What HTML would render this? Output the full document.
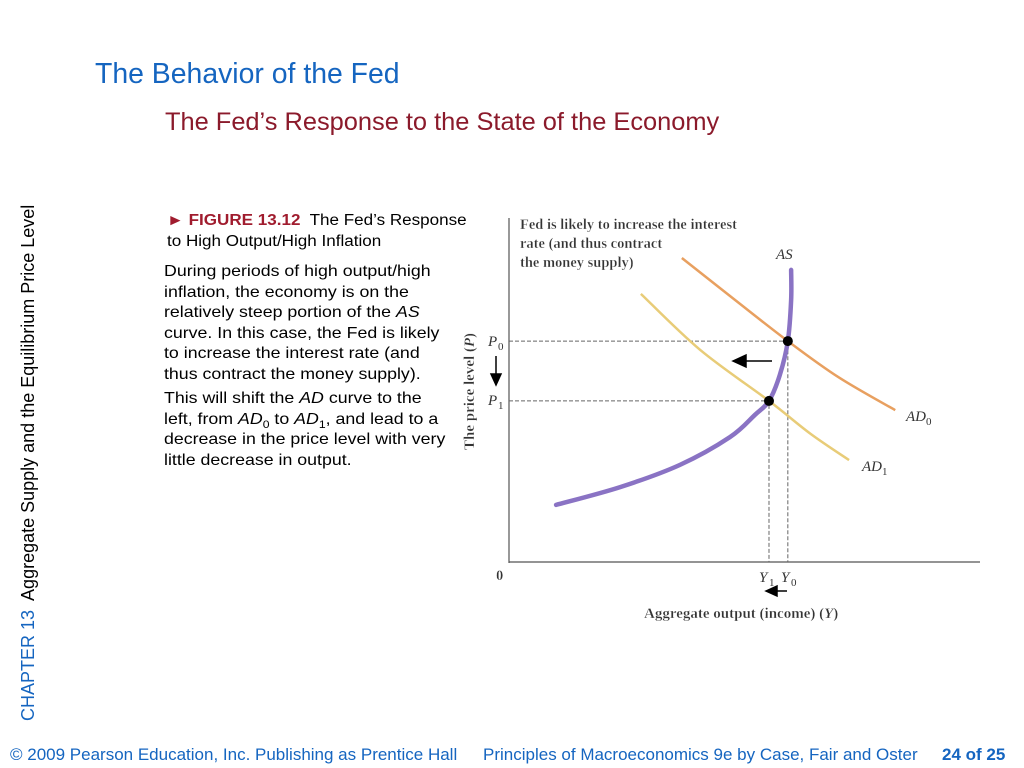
<!DOCTYPE html>
<html><head><meta charset="utf-8"><style>
body{margin:0;width:1024px;height:768px;background:#fff;position:relative;overflow:hidden;font-family:"Liberation Sans",sans-serif}
.a{position:absolute;margin:0;white-space:nowrap}
.s{font-size:11px;position:relative;top:4px;line-height:0}
</style></head><body>
<div class="a" style="left:95px;top:58px;font-size:28.4px;color:#1565c0">The Behavior of the Fed</div>
<div class="a" style="left:165px;top:108px;font-size:25.4px;color:#8b1a2b">The Fed’s Response to the State of the Economy</div>
<div class="a" style="left:18px;top:731px;transform-origin:0 0;transform:rotate(-90deg);font-size:18px;line-height:20px;margin-top:-10px"><span style="color:#1565c0">CHAPTER 13</span>&nbsp; Aggregate Supply and the Equilibrium Price Level</div>
<div class="a" style="left:167px;top:210px;font-size:15.5px;line-height:21px;transform-origin:0 0;transform:scaleX(1.1)"><span style="color:#a01c2e;font-weight:bold">► FIGURE 13.12</span>&nbsp; The Fed’s Response<br>to High Output/High Inflation</div>
<div class="a" style="left:164px;top:262px;font-size:16px;line-height:20.5px;transform-origin:0 0;transform:scaleX(1.11)">During periods of high output/high<br>inflation, the economy is on the<br>relatively steep portion of the <i>AS</i><br>curve. In this case, the Fed is likely<br>to increase the interest rate (and<br>thus contract the money supply).<div style="height:4px"></div>This will shift the <i>AD</i> curve to the<br>left, from <i>AD</i><span class="s">0</span> to <i>AD</i><span class="s">1</span>, and lead to a<br>decrease in the price level with very<br>little decrease in output.</div>
<svg id="chart" width="1024" height="768" style="position:absolute;left:0;top:0" font-family="Liberation Serif,serif"></svg>
<div class="a" style="left:10px;top:745px;font-size:17px;color:#1565c0">© 2009 Pearson Education, Inc. Publishing as Prentice Hall</div>
<div class="a" style="left:483px;top:745px;font-size:17px;color:#1565c0">Principles of Macroeconomics 9e by Case, Fair and Oster</div>
<div class="a" style="left:942px;top:745px;font-size:17px;color:#1565c0;font-weight:bold">24 of 25</div>
<script>
const asX=[10,23.6,36.3,46.9,52.2,55.2,57.5,59.2,59.9,59.9];
const asY=[16.7,21.9,28.4,36.5,43,47.1,54.7,64.6,76.6,85.4];
const ad0X=[36.7,48,59.2,70,82];
const ad0Y=[88.9,76.6,64.6,54,44.4];
const ad1X=[28,40.6,55.2,64,72.2];
const ad1Y=[78.4,62,47.1,37.5,29.8];
const eqX=[59.2,55.2];
const eqY=[64.6,47.1];
const sx=v=>509+v*4.71, sy=v=>562-v*3.42;
const svg=document.getElementById('chart');const NS='http://www.w3.org/2000/svg';
function mk(t,a,txt){const e=document.createElementNS(NS,t);for(const k in a)e.setAttribute(k,a[k]);if(txt!==undefined)e.textContent=txt;svg.appendChild(e);return e;}
function curve(xs,ys){const p=xs.map((x,i)=>[sx(x),sy(ys[i])]);let d='M'+p[0][0]+','+p[0][1];
for(let i=0;i<p.length-1;i++){const a=p[Math.max(0,i-1)],b=p[i],c=p[i+1],n=p[Math.min(p.length-1,i+2)];
d+=` C${b[0]+(c[0]-a[0])/6},${b[1]+(c[1]-a[1])/6} ${c[0]-(n[0]-b[0])/6},${c[1]-(n[1]-b[1])/6} ${c[0]},${c[1]}`;}return d;}
let e;
e=mk('line',{x1:509,y1:218,x2:509,y2:563,stroke:'#555','stroke-width':1.2});

e=mk('line',{x1:509,y1:562,x2:980,y2:562,stroke:'#555','stroke-width':1.2});

for(let i=0;i<eqX.length;i++){
e=mk('path',{d:`M509,${sy(eqY[i])} H${sx(eqX[i])} V562`,fill:'none',stroke:'#666','stroke-dasharray':'4,2','stroke-width':1});
}
e=mk('path',{d:curve(ad0X,ad0Y),fill:'none',stroke:'#e8a060','stroke-width':2.5});

e=mk('path',{d:curve(ad1X,ad1Y),fill:'none',stroke:'#e8cc78','stroke-width':2.5});

e=mk('path',{d:curve(asX,asY),fill:'none',stroke:'#8a73c4','stroke-width':4.5,'stroke-linecap':'round'});

for(let i=0;i<eqX.length;i++){e=mk('circle',{cx:sx(eqX[i]),cy:sy(eqY[i]),r:5,fill:'#000'});
}
e=mk('path',{d:'M772,361 H745 M733,361 l13,-6 v12 z',stroke:'#000','stroke-width':1.5,fill:'#000'});

e=mk('path',{d:'M787,591 H775 M766,591 l11,-5 v10 z',stroke:'#000','stroke-width':1.5,fill:'#000'});

e=mk('path',{d:'M496,356 V375 M496,385 l-5,-11 h10 z',stroke:'#000','stroke-width':1.5,fill:'#000'});

const labels=[['Fed is likely to increase the interest',520,229],['rate (and thus contract',520,248],['the money supply)',520,267],['0',496,580]];
labels.forEach(l=>{e=mk('text',{x:l[1],y:l[2],'font-size':14.5,fill:'#333','font-weight':'bold','stroke':'#fff','stroke-width':0.3},l[0]);});
e=mk('text',{x:644,y:618,'font-size':15,fill:'#333','font-weight':'bold','stroke':'#fff','stroke-width':0.3},'Aggregate output (income) (');
const t=document.createElementNS(NS,'tspan');t.setAttribute('font-style','italic');t.textContent='Y';e.appendChild(t);e.appendChild(document.createTextNode(')'));
e=mk('text',{x:474,y:450,'font-size':15,fill:'#333','font-weight':'bold','stroke':'#fff','stroke-width':0.3,transform:'rotate(-90 474 450)'},'The price level (');
const t2=document.createElementNS(NS,'tspan');t2.setAttribute('font-style','italic');t2.textContent='P';e.appendChild(t2);e.appendChild(document.createTextNode(')'));
const ital=[['AS',776,259],['P',488,346],['P',488,405],['AD',906,421],['AD',862,471],['Y',759,582],['Y',781,582]];
const subs=['','0','1','0','1','1','0'];
ital.forEach((l,i)=>{e=mk('text',{x:l[1],y:l[2],'font-size':15,fill:'#333','font-style':'italic'},l[0]);
if(subs[i]){const w=l[0].length*10;e=mk('text',{x:l[1]+w,y:l[2]+4,'font-size':11,fill:'#333'},subs[i]);}});
</script>
</body></html>
